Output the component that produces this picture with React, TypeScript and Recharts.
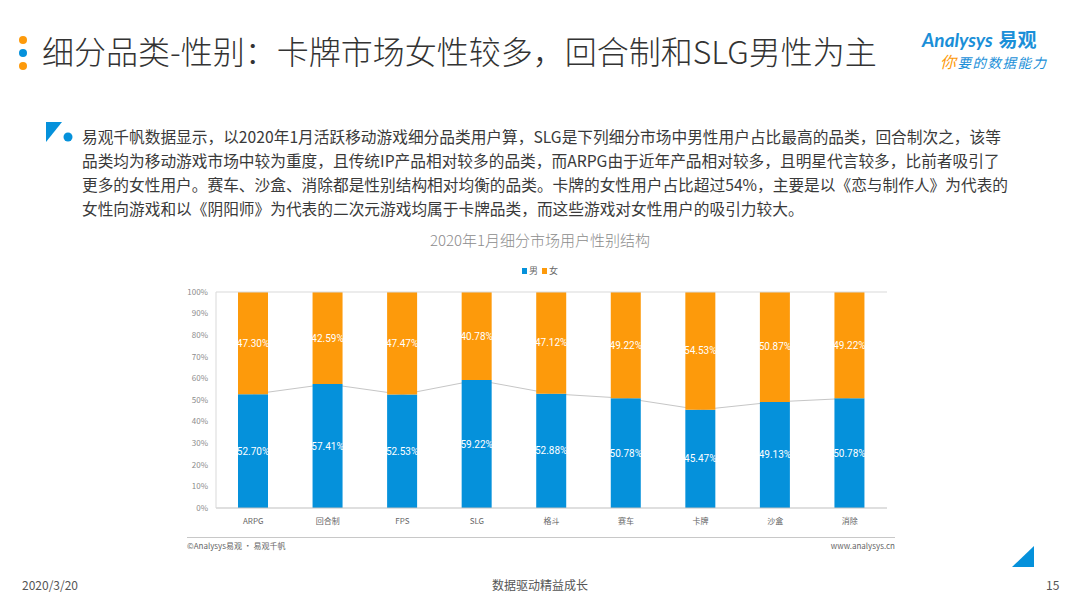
import React from "react";
import { ComposedChart, Bar, Line, XAxis, YAxis, LabelList, ReferenceLine } from "recharts";

const categories = ["ARPG", "回合制", "FPS", "SLG", "格斗", "赛车", "卡牌", "沙盒", "消除"];
const maleShare = [52.7, 57.41, 52.53, 59.22, 52.88, 50.78, 45.47, 49.13, 50.78];
const femaleShare = [47.3, 42.59, 47.47, 40.78, 47.12, 49.22, 54.53, 50.87, 49.22];
const yTicks = [0, 10, 20, 30, 40, 50, 60, 70, 80, 90, 100];

const paragraph = [
  "易观千帆数据显示，以2020年1月活跃移动游戏细分品类用户算，SLG是下列细分市场中男性用户占比最高的品类，回合制次之，该等",
  "品类均为移动游戏市场中较为重度，且传统IP产品相对较多的品类，而ARPG由于近年产品相对较多，且明星代言较多，比前者吸引了",
  "更多的女性用户。赛车、沙盒、消除都是性别结构相对均衡的品类。卡牌的女性用户占比超过54%，主要是以《恋与制作人》为代表的",
  "女性向游戏和以《阴阳师》为代表的二次元游戏均属于卡牌品类，而这些游戏对女性用户的吸引力较大。",
];

const BLUE = "#0591db";
const ORANGE = "#fd9a0b";
const CJK = '"Noto Sans CJK SC", "Noto Sans", sans-serif';

const data = categories.map((name, i) => ({
  name,
  male: maleShare[i],
  female: femaleShare[i],
}));

const pct = (v: any) => `${Number(v).toFixed(2)}%`;

export default function App() {
  return (
    <div
      style={{
        position: "absolute",
        left: 0,
        top: 0,
        width: 1080,
        height: 608,
        background: "#fff",
        fontFamily: CJK,
        overflow: "hidden",
      }}
    >
      {/* header dots */}
      {[ORANGE, BLUE, ORANGE].map((c, i) => (
        <div
          key={i}
          style={{
            position: "absolute",
            left: 19,
            top: 36 + i * 13,
            width: 8,
            height: 8,
            borderRadius: 4,
            background: c,
          }}
        />
      ))}
      <div
        style={{
          position: "absolute",
          left: 42,
          top: 28,
          fontSize: 32,
          lineHeight: "44px",
          color: "#333",
          fontWeight: 300,
          whiteSpace: "nowrap",
        }}
      >
        细分品类-性别：卡牌市场女性较多，回合制和SLG男性为主
      </div>

      {/* logo */}
      <div style={{ position: "absolute", left: 922, top: 28, whiteSpace: "nowrap" }}>
        <div style={{ fontSize: 19, lineHeight: "22px", color: "#1a8fd8", fontWeight: 700 }}>
          <span style={{ fontFamily: "Lato, sans-serif", fontStyle: "italic" }}>Analysys</span>
          <span style={{ marginLeft: 6 }}>易观</span>
        </div>
        <div
          style={{
            fontSize: 13.5,
            lineHeight: "20px",
            color: "#1a8fd8",
            fontStyle: "italic",
            marginLeft: 18,
            letterSpacing: 1.5,
          }}
        >
          <span style={{ color: ORANGE, fontSize: 16 }}>你</span>要的数据能力
        </div>
      </div>

      {/* paragraph */}
      <svg style={{ position: "absolute", left: 46, top: 122 }} width={30} height={24}>
        <polygon points="0,0 16,0 0,20" fill={BLUE} />
        <circle cx={22} cy={15} r={4.5} fill={BLUE} />
      </svg>
      <div
        style={{
          position: "absolute",
          left: 82,
          top: 125,
          fontSize: 15.7,
          lineHeight: "24px",
          color: "#3a3a3a",
          whiteSpace: "nowrap",
        }}
      >
        {paragraph.map((l, i) => (
          <div key={i}>{l}</div>
        ))}
      </div>

      {/* chart title and legend */}
      <div
        style={{
          position: "absolute",
          left: 0,
          width: 1080,
          top: 229,
          textAlign: "center",
          fontSize: 15,
          color: "#8c8c8c",
          fontWeight: 300,
        }}
      >
        2020年1月细分市场用户性别结构
      </div>
      <div
        style={{
          position: "absolute",
          left: 0,
          width: 1080,
          top: 264,
          textAlign: "center",
          fontSize: 9,
          color: "#666",
        }}
      >
        <span style={{ display: "inline-block", width: 5, height: 6, background: BLUE, marginRight: 2 }} />
        男
        <span
          style={{ display: "inline-block", width: 5, height: 6, background: ORANGE, marginLeft: 4, marginRight: 2 }}
        />
        女
      </div>

      <div style={{ position: "absolute", left: 160, top: 280 }}>
        <ComposedChart
          width={740}
          height={260}
          data={data}
          margin={{ top: 12, right: 13, bottom: 0, left: 0 }}
          barSize={30}
        >
          <XAxis
            dataKey="name"
            axisLine={{ stroke: "#bfbfbf" }}
            tickLine={false}
            height={32}
            tickMargin={4}
            tick={{ fontSize: 8, fill: "#666", fontFamily: CJK }}
            interval={0}
          />
          <YAxis
            width={56}
            domain={[0, 100]}
            ticks={yTicks}
            tickFormatter={(v) => `${v}%`}
            axisLine={{ stroke: "#d9d9d9" }}
            tickLine={false}
            tickMargin={2}
            tick={{ fontSize: 8, fill: "#8c8c8c", fontFamily: CJK }}
            interval={0}
          />
          <ReferenceLine y={100} stroke="#d9d9d9" />
          <Line
            dataKey="male"
            stroke="#c6c6c6"
            strokeWidth={1}
            dot={false}
            activeDot={false}
            legendType="none"
            isAnimationActive={false}
            zIndex={200}
          />
          <Bar dataKey="male" stackId="s" fill={BLUE} isAnimationActive={false}>
            <LabelList
              dataKey="male"
              position="center"
              formatter={pct}
              fill="#fff"
              fontSize={10}
              fontFamily="Roboto, sans-serif"
            />
          </Bar>
          <Bar dataKey="female" stackId="s" fill={ORANGE} isAnimationActive={false}>
            <LabelList
              dataKey="female"
              position="center"
              formatter={pct}
              fill="#fff"
              fontSize={10}
              fontFamily="Roboto, sans-serif"
            />
          </Bar>
        </ComposedChart>
      </div>

      {/* source */}
      <div style={{ position: "absolute", left: 187, top: 537, width: 708, borderTop: "1px solid #c8c8c8" }} />
      <div style={{ position: "absolute", left: 187, top: 540, fontSize: 8, color: "#666" }}>
        ©Analysys易观 · 易观千帆
      </div>
      <div style={{ position: "absolute", right: 1080 - 895, top: 540, fontSize: 8, color: "#666" }}>
        www.analysys.cn
      </div>
      <svg style={{ position: "absolute", left: 1012, top: 546 }} width={24} height={22}>
        <polygon points="22,0 22,21 0,21" fill={BLUE} />
      </svg>

      {/* footer */}
      <div style={{ position: "absolute", left: 22, top: 576, fontSize: 12, color: "#555" }}>2020/3/20</div>
      <div
        style={{
          position: "absolute",
          left: 0,
          width: 1080,
          top: 576,
          textAlign: "center",
          fontSize: 12,
          color: "#555",
        }}
      >
        数据驱动精益成长
      </div>
      <div style={{ position: "absolute", left: 1046, top: 576, fontSize: 12, color: "#555" }}>15</div>
    </div>
  );
}
